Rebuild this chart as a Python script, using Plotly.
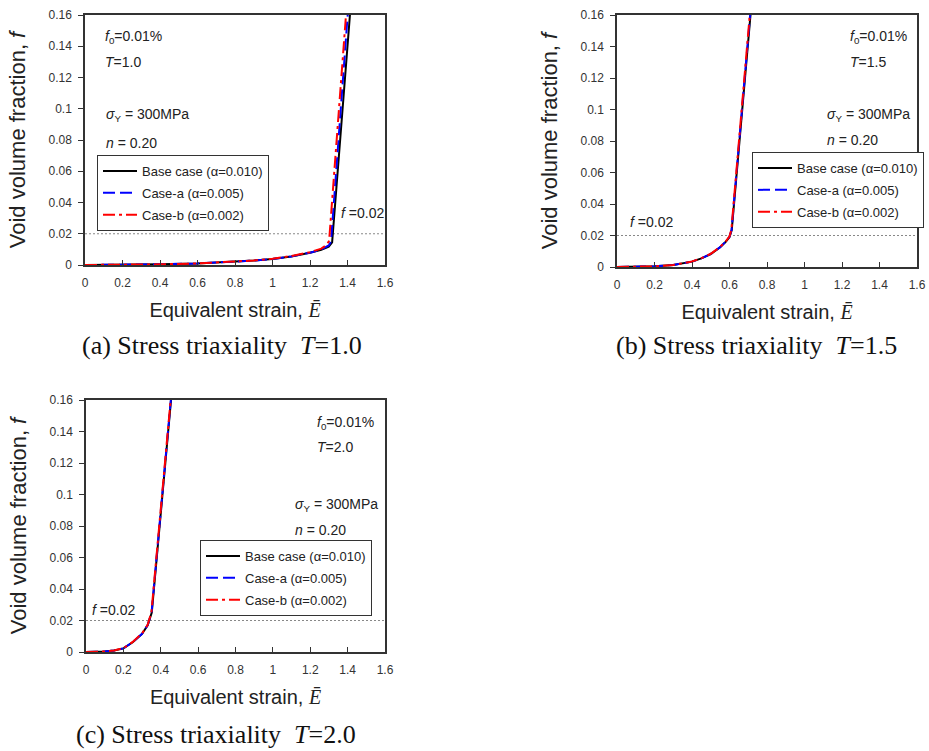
import plotly.graph_objects as go

# ---------------- data ----------------
CASE_NAMES = ["Base case (α=0.010)", "Case-a (α=0.005)", "Case-b (α=0.002)"]
CASE_COLORS = ["#000000", "#0000FF", "#FF0000"]
CASE_DASHES = ["solid", "12px,5px", "12px,4px,3px,4px"]

# Panel (a) T = 1.0
E_A_BASE = [0, 0.2, 0.4, 0.6, 0.8, 0.9, 1.0, 1.1, 1.2, 1.26, 1.3, 1.318, 1.413]
F_A_BASE = [0, 0.0001, 0.0004, 0.0010, 0.0020, 0.0028, 0.0039, 0.0055, 0.0078, 0.0097, 0.0118, 0.0145, 0.160]
E_A_CASEA = [0, 0.2, 0.4, 0.6, 0.8, 0.9, 1.0, 1.1, 1.2, 1.26, 1.3, 1.312, 1.401]
F_A_CASEA = [0, 0.0001, 0.0004, 0.0010, 0.0020, 0.0028, 0.0039, 0.0055, 0.0079, 0.0099, 0.0125, 0.0150, 0.160]
E_A_CASEB = [0, 0.2, 0.4, 0.6, 0.8, 0.9, 1.0, 1.1, 1.2, 1.26, 1.29, 1.302, 1.392]
F_A_CASEB = [0, 0.0001, 0.0004, 0.0010, 0.0021, 0.0029, 0.0040, 0.0057, 0.0082, 0.0105, 0.0130, 0.0155, 0.160]

# Panel (b) T = 1.5
E_B_BASE = [0, 0.1, 0.2, 0.3, 0.4, 0.45, 0.5, 0.55, 0.58, 0.6, 0.612, 0.712]
F_B_BASE = [0, 0.0001, 0.0004, 0.0013, 0.0034, 0.0055, 0.0082, 0.0125, 0.0160, 0.0190, 0.0235, 0.160]
E_B_CASEA = [0, 0.1, 0.2, 0.3, 0.4, 0.45, 0.5, 0.55, 0.58, 0.6, 0.611, 0.710]
F_B_CASEA = [0, 0.0001, 0.0004, 0.0013, 0.0034, 0.0055, 0.0083, 0.0126, 0.0161, 0.0192, 0.0236, 0.160]
E_B_CASEB = [0, 0.1, 0.2, 0.3, 0.4, 0.45, 0.5, 0.55, 0.58, 0.6, 0.610, 0.708]
F_B_CASEB = [0, 0.0001, 0.0004, 0.0013, 0.0035, 0.0056, 0.0084, 0.0128, 0.0163, 0.0195, 0.0237, 0.160]

# Panel (c) T = 2.0
E_C_BASE = [0, 0.1, 0.15, 0.2, 0.25, 0.3, 0.33, 0.352, 0.455]
F_C_BASE = [0, 0.0003, 0.0010, 0.0023, 0.0062, 0.0115, 0.0170, 0.0250, 0.160]
E_C_CASEA = [0, 0.1, 0.15, 0.2, 0.25, 0.3, 0.33, 0.351, 0.454]
F_C_CASEA = [0, 0.0003, 0.0010, 0.0023, 0.0063, 0.0116, 0.0171, 0.0251, 0.160]
E_C_CASEB = [0, 0.1, 0.15, 0.2, 0.25, 0.3, 0.33, 0.350, 0.453]
F_C_CASEB = [0, 0.0003, 0.0010, 0.0024, 0.0064, 0.0118, 0.0173, 0.0252, 0.160]

F_CRIT = 0.02
X_RANGE = [0, 1.6]
Y_RANGE = [0, 0.16]

PANELS = [
    dict(T="1.0", label="(a)", E=[E_A_BASE, E_A_CASEA, E_A_CASEB], F=[F_A_BASE, F_A_CASEA, F_A_CASEB]),
    dict(T="1.5", label="(b)", E=[E_B_BASE, E_B_CASEA, E_B_CASEB], F=[F_B_BASE, F_B_CASEA, F_B_CASEB]),
    dict(T="2.0", label="(c)", E=[E_C_BASE, E_C_CASEA, E_C_CASEB], F=[F_C_BASE, F_C_CASEA, F_C_CASEB]),
]

# ---------------- layout geometry ----------------
W, H = 929, 751
# plot-area pixel boxes (left, right, top, bottom)
BOXES = [(85, 385, 15, 265), (617, 917, 15, 267), (86, 385, 400, 652)]
LEGEND_POS = [(97, 155), (752, 152), (200, 540)]
# annotation placements (data coords): (E_left1, E_left2, f0_y, T_y, sig_y, n_y, fcrit_x, fcrit_y)
ANNOT = [
    (0.095, 0.10, 0.1461, 0.1301, 0.0960, 0.0783, 1.355, 0.0331),
    (1.232, 1.109, 0.1462, 0.1303, 0.0965, 0.0806, 0.059, 0.0288),
    (1.225, 1.107, 0.1452, 0.1303, 0.0933, 0.0775, 0.021, 0.0267),
]
CAPTION_POS = [(222, 345), (756, 345), (216, 734)]

SANS = "Liberation Sans, Arial, sans-serif"
SERIF = "Liberation Serif, Times New Roman, serif"

fig = go.Figure()
layout = dict(
    width=W, height=H, margin=dict(l=0, r=0, t=0, b=0),
    paper_bgcolor="white", plot_bgcolor="white",
    font=dict(family=SANS, color="#222"),
    template="none",
    annotations=[],
)

for i, p in enumerate(PANELS):
    sfx = "" if i == 0 else str(i + 1)
    xa, ya = "x" + sfx, "y" + sfx
    l, r, t, b = BOXES[i]
    leg = "legend" + sfx
    # f = 0.02 dotted reference line
    fig.add_trace(go.Scatter(
        x=X_RANGE, y=[F_CRIT, F_CRIT], mode="lines",
        line=dict(color="#888", width=1, dash="2px,2px"),
        xaxis=xa, yaxis=ya, showlegend=False, hoverinfo="skip",
    ))
    for k in range(3):
        fig.add_trace(go.Scatter(
            x=p["E"][k], y=p["F"][k], mode="lines", name=CASE_NAMES[k],
            line=dict(color=CASE_COLORS[k], width=2, dash=CASE_DASHES[k]),
            xaxis=xa, yaxis=ya, legend=leg, legendgroup=f"{i}-{k}",
            showlegend=True, hoverinfo="skip",
        ))
    layout["xaxis" + sfx] = dict(
        domain=[l / W, r / W], anchor=ya, range=X_RANGE, dtick=0.2, tick0=0,
        showgrid=False, zeroline=False, showline=True, mirror=True,
        linecolor="#333", linewidth=1.5, ticks="inside", ticklen=5, tickcolor="#333",
        tickfont=dict(size=12, color="#333"), ticklabelstandoff=6,
        title=dict(text='Equivalent strain, <span style="font-family:Liberation Serif"><i>E\u0304</i></span>',
                   font=dict(size=20, color="#222"), standoff=14),
    )
    layout["yaxis" + sfx] = dict(
        domain=[1 - b / H, 1 - t / H], anchor=xa, range=Y_RANGE, dtick=0.02, tick0=0,
        showgrid=False, zeroline=False, showline=True, mirror=True,
        linecolor="#333", linewidth=1.5, ticks="outside", ticklen=5, tickcolor="#333",
        tickfont=dict(size=12, color="#333"), ticklabelstandoff=4,
        title=dict(text="Void volume fraction, <i>f</i>", font=dict(size=22, color="#222"), standoff=17),
    )
    lx, ly = LEGEND_POS[i]
    layout[leg] = dict(
        x=lx / W, y=1 - ly / H, xanchor="left", yanchor="top",
        bgcolor="white", bordercolor="#333", borderwidth=1,
        font=dict(size=13, color="#222"), tracegroupgap=2, itemwidth=34,
    )
    a = ANNOT[i]
    base = dict(xref=xa, yref=ya, showarrow=False, xanchor="left", yanchor="middle",
                font=dict(size=14, color="#222"))
    layout["annotations"] += [
        dict(base, x=a[0], y=a[2], text="<i>f</i><sub>0</sub>=0.01%"),
        dict(base, x=a[0], y=a[3], text=f"<i>T</i>={p['T']}"),
        dict(base, x=a[1], y=a[4], text="<i>σ</i><sub>Y</sub> = 300MPa"),
        dict(base, x=a[1], y=a[5], text="<i>n</i> = 0.20"),
        dict(base, x=a[6], y=a[7], text="<i>f</i> =0.02"),
    ]
    cx, cy = CAPTION_POS[i]
    layout["annotations"].append(dict(
        xref="paper", yref="paper", x=cx / W, y=1 - cy / H, showarrow=False,
        xanchor="center", yanchor="middle",
        text=f"{p['label']} Stress triaxiality  <i>T</i>={p['T']}",
        font=dict(family=SERIF, size=26, color="#111"),
    ))

fig.update_layout(**layout)
fig.write_html("out.html")
